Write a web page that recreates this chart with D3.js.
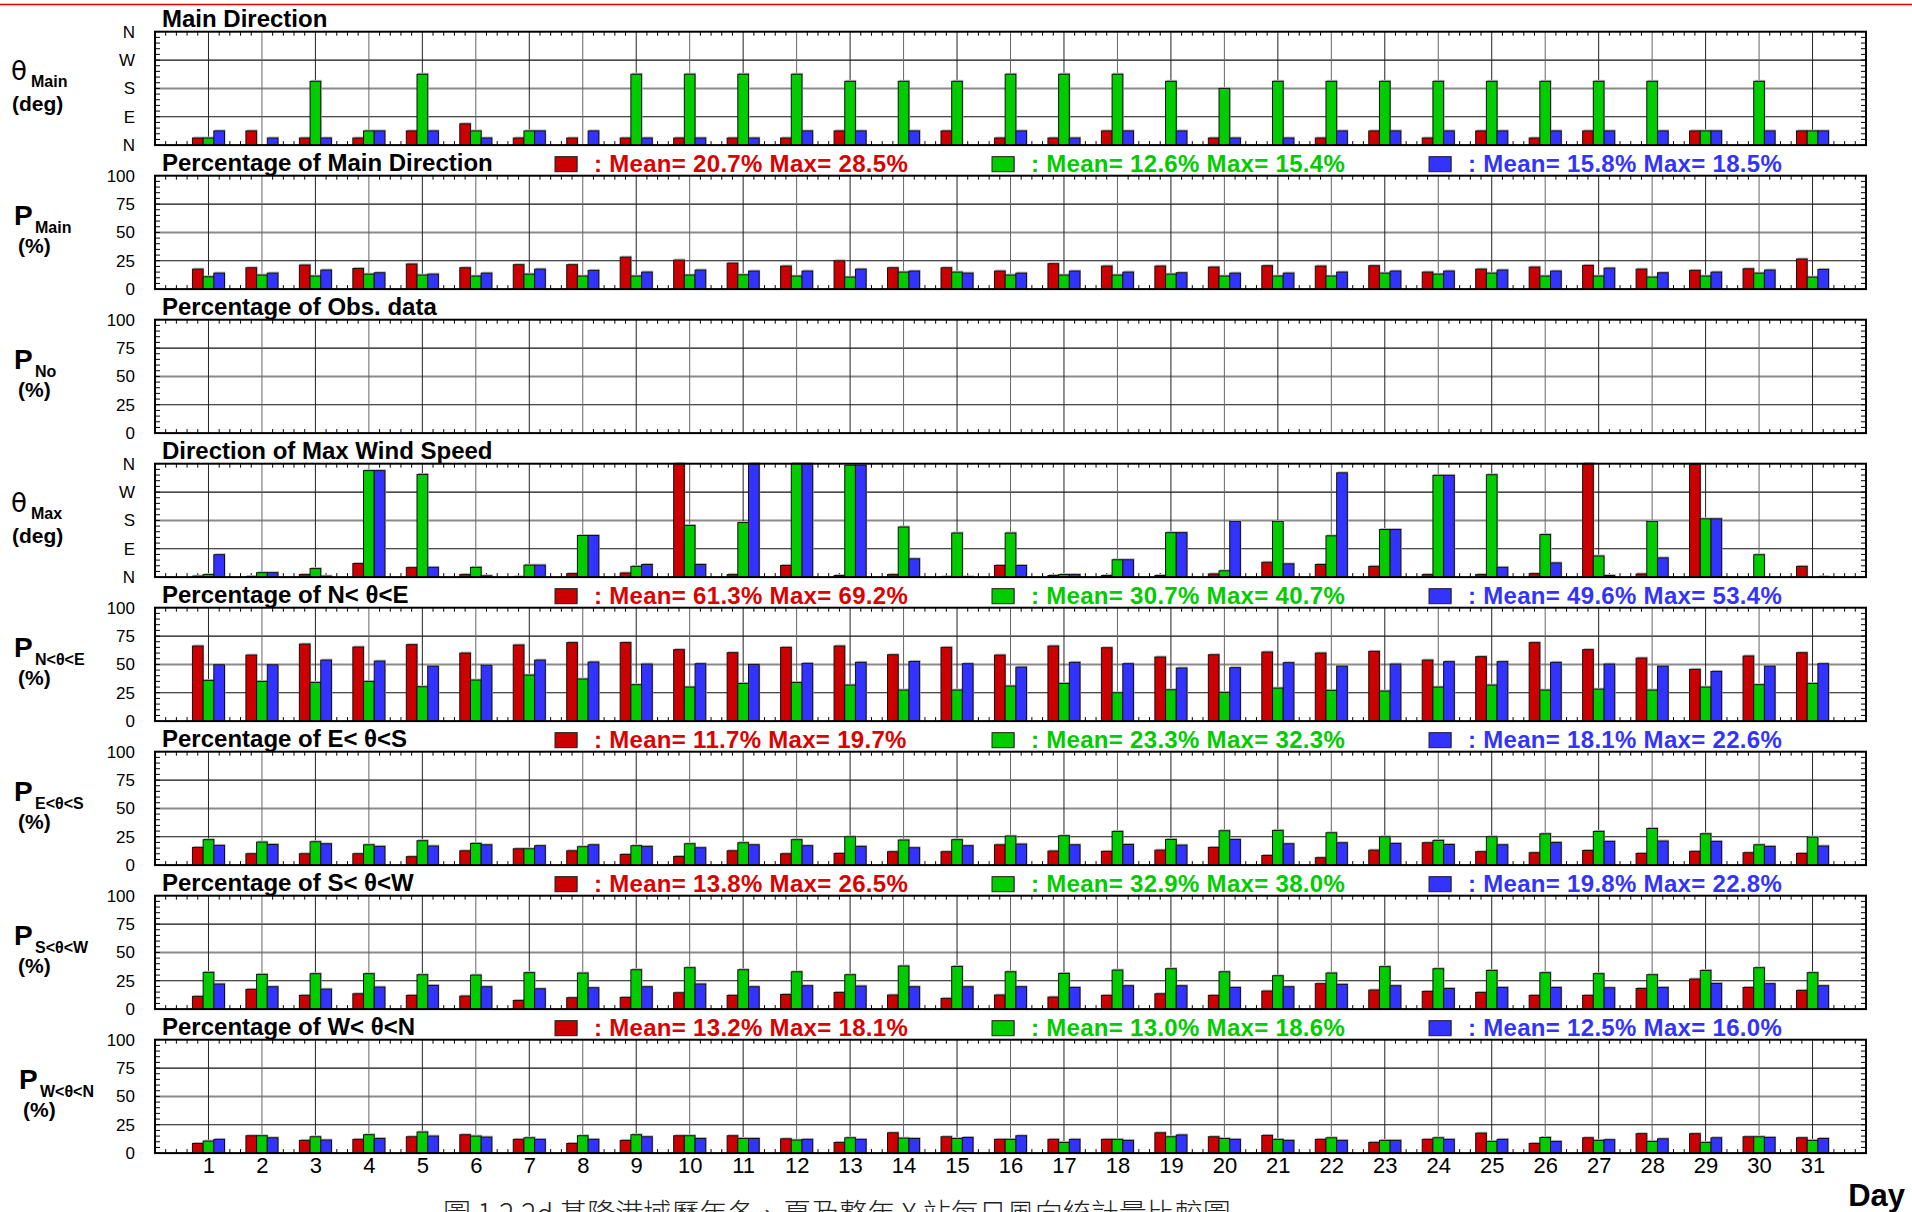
<!DOCTYPE html>
<html><head><meta charset="utf-8">
<script src="https://cdn.jsdelivr.net/npm/d3@7"></script>
<style>body{margin:0;background:#fff}svg{display:block}</style>
</head><body><svg id="c" width="1912" height="1212"></svg>
<script>
// ---------------- DATA ----------------
const days = [1,2,3,4,5,6,7,8,9,10,11,12,13,14,15,16,17,18,19,20,21,22,23,24,25,26,27,28,29,30,31];

const dirTickValues = [0,90,180,270,360];
const dirTickLabels = ["N","E","S","W","N"];
const pctTickValues = [0,25,50,75,100];
const pctTickLabels = ["0","25","50","75","100"];

// Main direction (deg)
const mainDirR = [22.5,45,22.5,22.5,45,67.5,22.5,22.5,22.5,22.5,22.5,22.5,45,0,45,22.5,22.5,45,0,22.5,0,22.5,45,22.5,45,22.5,45,0,45,0,45];
const mainDirG = [22.5,0,202.5,45,225,45,45,0,225,225,225,225,202.5,202.5,202.5,225,225,225,202.5,180,202.5,202.5,202.5,202.5,202.5,202.5,202.5,202.5,45,202.5,45];
const mainDirB = [45,22.5,22.5,45,45,22.5,45,45,22.5,22.5,22.5,45,45,45,0,45,22.5,45,45,22.5,22.5,45,45,45,45,45,45,45,45,45,45];

// Percentage of main direction (%)
const pMainR = [17.6,18.8,21.2,18.2,22.1,18.8,21.5,21.5,28.2,25.6,22.9,20.3,25.0,18.8,18.8,15.9,22.4,20.3,20.3,19.4,20.6,20.3,20.6,15.0,17.6,19.4,20.9,17.6,16.5,17.9,26.5];
const pMainG = [10.9,12.4,11.5,13.2,12.4,11.5,13.2,11.5,11.5,12.4,12.6,11.5,10.6,15.0,15.0,12.4,12.4,12.4,13.2,11.5,11.5,11.5,14.1,13.2,14.1,11.5,11.5,10.6,11.5,14.1,10.6];
const pMainB = [14.1,14.1,16.8,14.4,13.2,14.1,17.6,16.5,15.0,16.8,15.9,15.9,17.6,15.9,14.1,14.1,15.9,15.0,14.4,14.1,14.1,15.0,15.9,15.9,16.8,15.9,18.5,14.4,15.0,16.8,17.4];

// Percentage of observed data (%) - empty panel
const pNoR = [];
const pNoG = [];
const pNoB = [];

// Direction of max wind speed (deg)
const maxDirR = [3,2,8,43,30,8,1,11,13,360,8,37,5,8,1,37,5,5,5,10,47,40,34,8,8,11,360,10,358,0,34];
const maxDirG = [8,14,27,338,326,31,38,132,34,164,173,360,355,159,140,140,8,55,141,20,177,131,151,323,325,135,67,177,185,71,0];
const maxDirB = [71,14,3,338,31,4,38,132,40,40,360,360,355,58,1,37,8,55,141,177,42,331,151,323,31,45,5,61,185,0,1];

// Percentage N<θ<E
const pNER = [66.2,58.2,67.9,65.3,67.4,60.0,67.1,69.2,69.2,63.0,60.3,65.0,66.2,58.5,65.0,58.2,66.2,64.7,56.5,58.5,60.9,60.0,61.5,53.8,56.8,69.2,63.0,55.6,45.6,57.4,60.3];
const pNEG = [35.9,35.0,34.1,35.0,30.3,36.2,40.6,37.1,32.1,30.0,33.2,34.1,31.8,27.4,27.4,30.9,33.2,25.0,27.6,25.3,29.1,27.1,26.5,30.0,31.8,27.4,28.2,27.4,30.0,32.1,33.2];
const pNEB = [49.7,49.7,53.8,52.9,48.5,49.4,53.8,52.1,50.3,50.6,50.0,50.9,51.8,52.6,50.6,47.6,51.8,50.6,46.8,47.1,51.5,48.5,50.3,52.4,52.4,51.8,50.3,48.5,43.8,48.5,50.6];

// Percentage E<θ<S
const pESR = [15.6,10.0,10.0,10.0,7.4,12.6,14.4,12.6,9.4,7.6,12.6,10.0,10.3,11.8,11.8,17.9,12.4,12.1,13.2,15.6,8.5,6.5,13.2,19.7,11.8,10.9,12.9,10.3,12.1,10.9,10.3];
const pESG = [22.4,20.3,20.6,17.9,21.5,19.1,14.4,16.2,17.1,18.8,19.7,22.4,25.0,22.1,22.4,25.6,25.9,29.7,22.6,30.3,30.6,28.5,25.0,21.8,25.0,27.6,29.7,32.3,27.6,17.9,24.7];
const pESB = [17.4,18.2,18.8,16.5,16.8,17.9,17.1,17.9,16.5,15.3,17.9,17.1,16.5,15.3,17.1,18.5,17.9,18.2,17.6,22.6,18.8,19.7,19.1,18.2,17.9,20.0,20.9,21.2,20.9,16.5,16.8];

// Percentage S<θ<W
const pSWR = [11.2,17.4,12.1,13.5,12.1,11.5,7.6,10.0,10.3,14.4,12.1,12.9,14.7,12.4,9.4,12.4,10.6,12.1,13.5,12.1,15.9,22.4,16.8,15.6,14.7,12.1,12.1,18.2,26.5,19.1,16.5];
const pSWG = [32.4,30.6,31.2,31.2,30.3,30.0,32.1,31.8,34.7,36.5,34.7,32.9,30.3,38.0,37.6,32.9,31.5,34.4,35.6,32.9,29.4,31.8,37.4,35.6,34.1,32.1,31.2,30.3,34.1,36.5,32.1];
const pSWB = [22.1,19.7,17.6,19.4,20.9,19.7,17.9,18.8,19.7,22.1,19.7,20.6,20.3,19.7,19.7,19.7,19.1,20.6,20.6,19.1,19.7,21.8,20.6,18.2,19.1,19.1,18.8,19.1,22.6,22.4,20.6];

// Percentage W<θ<N
const pWNR = [8.5,15.3,11.2,12.1,14.4,16.2,12.1,8.5,11.2,15.3,15.3,12.6,9.4,17.9,14.4,12.1,12.1,12.1,17.9,14.4,15.6,12.1,9.4,12.1,17.6,8.5,13.5,17.1,17.1,14.4,13.5];
const pWNG = [10.6,15.3,14.4,16.2,18.6,15.0,13.5,15.3,16.2,15.3,12.9,11.5,13.5,13.2,12.9,12.1,9.4,12.1,14.4,12.9,12.1,13.5,11.2,13.5,10.3,13.8,11.2,10.3,9.4,14.4,11.2];
const pWNB = [12.1,13.5,11.5,12.9,15.0,14.1,12.1,12.1,14.4,12.9,12.9,12.1,12.1,12.9,13.8,15.3,12.1,11.2,16.0,12.1,11.2,11.2,11.2,12.1,12.1,10.3,11.8,12.6,13.5,13.8,12.9];

const panelTitles = ["Main Direction","Percentage of Main Direction","Percentage of Obs. data","Direction of Max Wind Speed","Percentage of N< \u03b8<E","Percentage of E< \u03b8<S","Percentage of S< \u03b8<W","Percentage of W< \u03b8<N"];
const panelSymbols = ["\u03b8","P","P","\u03b8","P","P","P","P"];
const panelSubs = ["Main","Main","No","Max","N<\u03b8<E","E<\u03b8<S","S<\u03b8<W","W<\u03b8<N"];
const panelUnits = ["(deg)","(%)","(%)","(deg)","(%)","(%)","(%)","(%)"];

const legendMainDir = [": Mean= 20.7% Max= 28.5%",": Mean= 12.6% Max= 15.4%",": Mean= 15.8% Max= 18.5%"];
const legendNE = [": Mean= 61.3% Max= 69.2%",": Mean= 30.7% Max= 40.7%",": Mean= 49.6% Max= 53.4%"];
const legendES = [": Mean= 11.7% Max= 19.7%",": Mean= 23.3% Max= 32.3%",": Mean= 18.1% Max= 22.6%"];
const legendSW = [": Mean= 13.8% Max= 26.5%",": Mean= 32.9% Max= 38.0%",": Mean= 19.8% Max= 22.8%"];
const legendWN = [": Mean= 13.2% Max= 18.1%",": Mean= 13.0% Max= 18.6%",": Mean= 12.5% Max= 16.0%"];

const captionText = "\u5716 1.2.2d  \u57fa\u9686\u6e2f\u57df\u6b77\u5e74\u51ac\u3001\u590f\u53ca\u6574\u5e74 X \u7ad9\u6bcf\u65e5\u98a8\u5411\u7d71\u8a08\u91cf\u6bd4\u8f03\u5716";

// ---------------- STYLE / LAYOUT ----------------
const barColors = ["#CC0000","#00CC00","#3333FF"];
const legendColors = ["#DD0000","#00CC00","#3333FF"];
const FONT = "'Liberation Sans', Arial, Helvetica, sans-serif";
const W = 1912, Hpx = 1212;
const L = 155, R = 1866, TOP0 = 31.7, STEP = 144, PH = 113.4;

const panels = [
  {type:"dir", series:[mainDirR,mainDirG,mainDirB], legend:null},
  {type:"pct", series:[pMainR,pMainG,pMainB], legend:legendMainDir},
  {type:"pct", series:[pNoR,pNoG,pNoB], legend:null},
  {type:"dir", series:[maxDirR,maxDirG,maxDirB], legend:null},
  {type:"pct", series:[pNER,pNEG,pNEB], legend:legendNE},
  {type:"pct", series:[pESR,pESG,pESB], legend:legendES},
  {type:"pct", series:[pSWR,pSWG,pSWB], legend:legendSW},
  {type:"pct", series:[pWNR,pWNG,pWNB], legend:legendWN}
];

const svg = d3.select("#c");
svg.append("rect").attr("width",W).attr("height",Hpx).attr("fill","#fff");

// top red rule
svg.append("line").attr("x1",0).attr("x2",W).attr("y1",4.5).attr("y2",4.5)
  .attr("stroke","#E00000").attr("stroke-width",1.6);

const x = d3.scaleLinear().domain([0,32]).range([L,R]);
const barW = x(0.2) - x(0);
const offsets = [-0.2, 0, 0.2];
const minorX = d3.range(0, 160).map(i => i/5).filter(v => Math.abs(v - Math.round(v)) > 1e-6);

panels.forEach((p, i) => {
  const t = TOP0 + i*STEP;
  const isDir = p.type === "dir";
  const ymax = isDir ? 360 : 100;
  const y = d3.scaleLinear().domain([0, ymax]).range([t+PH, t]);
  const g = svg.append("g");
  const tv = isDir ? dirTickValues : pctTickValues;
  const tl = isDir ? dirTickLabels : pctTickLabels;

  // horizontal gridlines
  tv.slice(1, 4).forEach((v, k) => {
    g.append("line").attr("x1",L).attr("x2",R).attr("y1",y(v)).attr("y2",y(v))
      .attr("stroke", k===1 ? "#8a8a8a" : "#111")
      .attr("stroke-width", k===1 ? 2 : 1.2);
  });
  // vertical day gridlines
  g.selectAll("line.vg").data(days).join("line").attr("class","vg")
    .attr("x1",d=>x(d)).attr("x2",d=>x(d)).attr("y1",t).attr("y2",t+PH)
    .attr("stroke",(d)=> d%2 ? "#222" : "#666").attr("stroke-width",1);

  // minor x ticks top & bottom
  g.selectAll("line.mxb").data(minorX).join("line").attr("class","mxb")
    .attr("x1",d=>x(d)).attr("x2",d=>x(d)).attr("y1",t+PH).attr("y2",t+PH-4)
    .attr("stroke","#000").attr("stroke-width",1);
  g.selectAll("line.mxt").data(minorX).join("line").attr("class","mxt")
    .attr("x1",d=>x(d)).attr("x2",d=>x(d)).attr("y1",t).attr("y2",t+4)
    .attr("stroke","#000").attr("stroke-width",1);
  // minor y ticks left & right
  const minorY = d3.range(0, 21).map(k => k*ymax/20);
  g.selectAll("line.myl").data(minorY).join("line").attr("class","myl")
    .attr("x1",L).attr("x2",L+5).attr("y1",d=>y(d)).attr("y2",d=>y(d))
    .attr("stroke","#000").attr("stroke-width",1);
  g.selectAll("line.myr").data(minorY).join("line").attr("class","myr")
    .attr("x1",R).attr("x2",R-5).attr("y1",d=>y(d)).attr("y2",d=>y(d))
    .attr("stroke","#000").attr("stroke-width",1);

  // bars
  p.series.forEach((s, si) => {
    const data = s.map((v, k) => ({day: days[k], v}));
    const bx = d => x(d.day + offsets[si]) - barW/2;
    g.selectAll("rect.sh"+si).data(data.filter(d => d.v > 0)).join("rect").attr("class","sh"+si)
      .attr("x", d => bx(d) + 1).attr("y", d => y(d.v) - 1.5)
      .attr("width", barW).attr("height", d => y(0) - y(d.v) + 1.5)
      .attr("fill","#b8b8b8");
    g.selectAll("rect.b"+si).data(data).join("rect").attr("class","b"+si)
      .attr("x", bx).attr("y", d => y(d.v))
      .attr("width", barW).attr("height", d => y(0) - y(d.v))
      .attr("fill", barColors[si]).attr("stroke","#111").attr("stroke-width",1);
  });

  // frame
  g.append("rect").attr("x",L).attr("y",t).attr("width",R-L).attr("height",PH)
    .attr("fill","none").attr("stroke","#000").attr("stroke-width",2);

  // y axis labels
  const ax = d3.axisLeft(y).tickValues(tv).tickFormat((d, k) => tl[k]).tickSize(0).tickPadding(20);
  const ag = g.append("g").attr("transform",`translate(${L},0)`).call(ax);
  ag.select(".domain").remove();
  ag.selectAll("text").attr("font-family",FONT).attr("font-size",17).attr("fill","#000");

  // title
  g.append("text").attr("x",162).attr("y",t-5).text(panelTitles[i])
    .attr("font-family",FONT).attr("font-weight","bold").attr("font-size",24).attr("fill","#000");

  // legend
  if (p.legend) {
    const sx = [555, 992, 1429];
    p.legend.forEach((txt, k) => {
      g.append("rect").attr("x",sx[k]+1).attr("y",t-19.5).attr("width",22).attr("height",15).attr("fill","#999");
      g.append("rect").attr("x",sx[k]).attr("y",t-19).attr("width",22).attr("height",15)
        .attr("fill",barColors[k]).attr("stroke","#222").attr("stroke-width",1);
      g.append("text").attr("x",sx[k]+39).attr("y",t-4).text(txt)
        .attr("font-family",FONT).attr("font-weight","bold").attr("font-size",24)
        .attr("letter-spacing",0.3).attr("fill",legendColors[k]);
    });
  }

  // left axis label
  const dx = i === 7 ? 5 : 0;
  const lab = g.append("g").attr("font-family",FONT).attr("font-weight","bold").attr("fill","#000");
  if (isDir) {
    lab.append("text").attr("x",11+dx).attr("y",t+48).text(panelSymbols[i])
      .attr("font-size",26).attr("font-weight","normal").attr("font-family","'DejaVu Sans', sans-serif");
    lab.append("text").attr("x",31+dx).attr("y",t+55).text(panelSubs[i]).attr("font-size",16);
    lab.append("text").attr("x",12+dx).attr("y",t+79).text(panelUnits[i]).attr("font-size",21);
  } else {
    lab.append("text").attr("x",14+dx).attr("y",t+49).text(panelSymbols[i]).attr("font-size",28);
    lab.append("text").attr("x",35+dx).attr("y",t+57).text(panelSubs[i]).attr("font-size",16);
    lab.append("text").attr("x",18+dx).attr("y",t+77).text(panelUnits[i]).attr("font-size",21);
  }

  // day axis on last panel
  if (i === panels.length - 1) {
    const bx = d3.axisBottom(x).tickValues(days).tickFormat(d3.format("d")).tickSize(0).tickPadding(4);
    const bg = g.append("g").attr("transform",`translate(0,${t+PH})`).call(bx);
    bg.select(".domain").remove();
    bg.selectAll("text").attr("font-family",FONT).attr("font-size",22).attr("fill","#000");
  }
});

// "Day" label
svg.append("text").attr("x",1905).attr("y",1206).attr("text-anchor","end").text("Day")
  .attr("font-family",FONT).attr("font-weight","bold").attr("font-size",31).attr("fill","#000");

// caption (cut at bottom edge, as in the source figure)
svg.append("text").attr("x",443).attr("y",1224).text(captionText)
  .attr("font-family","'Noto Sans CJK TC', 'Noto Sans CJK SC', sans-serif")
  .attr("font-size",28).attr("font-weight",300).attr("fill","#222");
</script>
</body></html>
